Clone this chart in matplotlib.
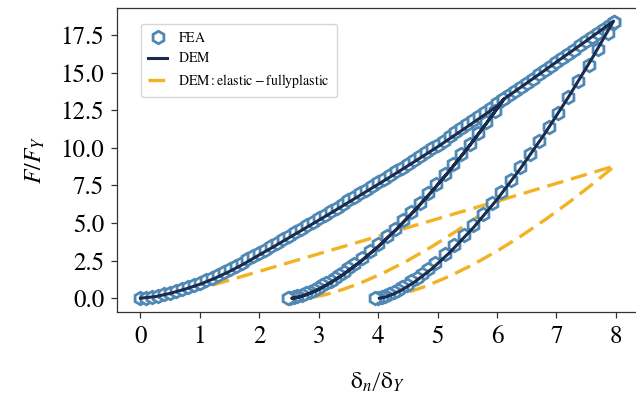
import numpy as np
import matplotlib
matplotlib.use("Agg")
import matplotlib.pyplot as plt

plt.rcParams['font.family'] = ['STIXGeneral', 'DejaVu Serif']
plt.rcParams['mathtext.fontset'] = 'stix'

# FEA data
fea_load_x = [0.0, 0.1, 0.2, 0.3, 0.4, 0.5, 0.6, 0.7, 0.8, 0.9, 1.0, 1.1, 1.2, 1.3, 1.4,
              1.5, 1.6, 1.7, 1.8, 1.9, 2.0, 2.1, 2.2, 2.3, 2.4, 2.5, 2.6, 2.7, 2.8, 2.9,
              3.0, 3.1, 3.2, 3.3, 3.4, 3.5, 3.6, 3.7, 3.8, 3.9, 4.0, 4.1, 4.2, 4.3, 4.4,
              4.5, 4.6, 4.7, 4.8, 4.9, 5.0, 5.1, 5.2, 5.3, 5.4, 5.5, 5.6, 5.7, 5.8, 5.9,
              6.0, 6.1, 6.2, 6.3, 6.4, 6.5, 6.6, 6.7, 6.8, 6.9, 7.0, 7.1, 7.2, 7.3, 7.4,
              7.5, 7.6, 7.7, 7.8, 7.9, 7.97]
fea_load_y = [0.00, 0.03, 0.09, 0.16, 0.25, 0.36, 0.47, 0.60, 0.73, 0.87, 1.02, 1.18, 1.35, 1.53, 1.73,
              1.93, 2.14, 2.35, 2.57, 2.79, 3.01, 3.23, 3.46, 3.69, 3.92, 4.15, 4.38, 4.61, 4.84, 5.07,
              5.30, 5.54, 5.78, 6.02, 6.26, 6.50, 6.74, 6.98, 7.22, 7.46, 7.70, 7.94, 8.18, 8.43, 8.68,
              8.93, 9.18, 9.43, 9.69, 9.95, 10.21, 10.48, 10.75, 11.02, 11.29, 11.56, 11.83, 12.10, 12.38, 12.66,
              12.94, 13.22, 13.49, 13.77, 14.05, 14.32, 14.60, 14.87, 15.15, 15.42, 15.70, 15.97, 16.25, 16.52, 16.80,
              17.07, 17.35, 17.62, 17.90, 18.17, 18.37]

fea_un1_x = [6.10, 5.96, 5.82, 5.68, 5.54, 5.40, 5.26, 5.12, 4.98, 4.84, 4.70, 4.56, 4.42, 4.28,
             4.14, 4.00, 3.86, 3.72, 3.60, 3.50, 3.42, 3.34, 3.27, 3.20, 3.13, 3.06, 2.99, 2.92,
             2.85, 2.78, 2.71, 2.64, 2.58, 2.52, 2.48]
fea_un1_y = [13.22, 12.46, 11.72, 10.99, 10.27, 9.58, 8.90, 8.23, 7.59, 6.96, 6.35, 5.76, 5.19, 4.63,
             4.11, 3.60, 3.11, 2.65, 2.27, 1.98, 1.75, 1.53, 1.35, 1.17, 1.01, 0.85, 0.70, 0.56,
             0.43, 0.32, 0.21, 0.12, 0.06, 0.02, 0.00]

fea_un2_x = [7.97, 7.86, 7.70, 7.54, 7.37, 7.20, 7.03, 6.87, 6.71, 6.55, 6.39, 6.23, 6.07, 5.92,
             5.76, 5.60, 5.44, 5.28, 5.12, 4.96, 4.84, 4.74, 4.65, 4.56, 4.48, 4.40, 4.33, 4.26,
             4.19, 4.12, 4.06, 4.00, 3.94]
fea_un2_y = [18.37, 17.62, 16.55, 15.51, 14.42, 13.36, 12.33, 11.39, 10.47, 9.57, 8.71, 7.87, 7.06, 6.33,
             5.58, 4.86, 4.17, 3.52, 2.91, 2.34, 1.94, 1.62, 1.36, 1.11, 0.90, 0.71, 0.55, 0.41,
             0.28, 0.17, 0.09, 0.03, 0.00]

# DEM model
dem_load1_x = [0.0, 0.25, 0.5, 0.75, 1.0, 1.25, 1.5, 1.75, 2.0, 2.25, 2.5, 2.75, 3.0, 3.25,
               3.5, 3.75, 4.0, 4.25, 4.5, 4.75, 5.0, 5.25, 5.5, 5.75, 6.0, 6.12]
dem_load1_y = [0.0, 0.10, 0.32, 0.60, 0.92, 1.32, 1.78, 2.30, 2.88, 3.44, 4.02, 4.60, 5.18, 5.77,
               6.37, 6.97, 7.57, 8.18, 8.80, 9.43, 10.06, 10.73, 11.40, 12.08, 12.76, 13.25]
dem_un1_x = [6.12, 5.8, 5.5, 5.2, 4.9, 4.6, 4.3, 4.0, 3.7, 3.4, 3.2, 3.0, 2.85, 2.7, 2.6, 2.55]
dem_un1_y = [13.25, 11.51, 9.95, 8.47, 7.08, 5.77, 4.55, 3.43, 2.42, 1.54, 1.03, 0.59, 0.32, 0.11, 0.02, 0.0]
dem_load2_x = [6.12, 6.5, 7.0, 7.5, 7.96]
dem_load2_y = [13.25, 14.30, 15.70, 17.10, 18.42]
dem_un2_x = [7.96, 7.6, 7.2, 6.8, 6.4, 6.0, 5.6, 5.2, 4.9, 4.6, 4.4, 4.25, 4.12, 4.02]
dem_un2_y = [18.42, 15.95, 13.36, 10.92, 8.65, 6.56, 4.68, 3.02, 1.94, 1.04, 0.55, 0.26, 0.07, 0.0]

# DEM elastic - fully plastic model
epp_load1_x = [0.0, 0.3, 0.6, 1.0, 6.05]
epp_load1_y = [0.0, 0.10, 0.30, 0.62, 6.50]
epp_un1_x = [6.05, 5.7, 5.3, 4.9, 4.5, 4.1, 3.7, 3.4, 3.1, 2.9, 2.75]
epp_un1_y = [6.50, 5.49, 4.42, 3.42, 2.51, 1.70, 1.00, 0.57, 0.22, 0.06, 0.0]
epp_load2_x = [6.05, 7.98]
epp_load2_y = [6.50, 8.79]
epp_un2_x = [7.98, 7.6, 7.2, 6.8, 6.4, 6.0, 5.6, 5.2, 4.8, 4.5, 4.25, 4.0]
epp_un2_y = [8.79, 7.56, 6.34, 5.19, 4.12, 3.13, 2.24, 1.46, 0.79, 0.39, 0.14, 0.0]

fea_color = '#4f88b5'
dem_color = '#1b2b4b'
epp_color = '#f2b224'

dem_x = np.concatenate([dem_load1_x, dem_un1_x, dem_un1_x[::-1], dem_load2_x, dem_un2_x])
dem_y = np.concatenate([dem_load1_y, dem_un1_y, dem_un1_y[::-1], dem_load2_y, dem_un2_y])

fig = plt.figure(figsize=(6.36, 3.98), dpi=100)
ax = fig.add_axes([0.1835, 0.2161, 0.8195, 0.765])

mk = dict(marker='h', ms=9, mfc='white', mec=fea_color, mew=2.0, ls='none')
ax.plot(fea_load_x, fea_load_y, label=r'$\mathrm{FEA}$', zorder=3, **mk)
ax.plot(fea_un1_x, fea_un1_y, zorder=3, **mk)
ax.plot(fea_un2_x, fea_un2_y, zorder=3, **mk)
ax.plot(dem_x, dem_y, color=dem_color, lw=2.2, label=r'$\mathrm{DEM}$', zorder=4)

dash = (0, (5, 2.4))
ax.plot(epp_load1_x + epp_un1_x[1:], epp_load1_y + epp_un1_y[1:], color=epp_color, lw=2.4,
        ls=dash, label=r'$\mathrm{DEM: elastic-fully plastic}$', zorder=2)
ax.plot(epp_load2_x + epp_un2_x[1:], epp_load2_y + epp_un2_y[1:], color=epp_color, lw=2.4,
        ls=dash, zorder=2)

ax.set_xlim(-0.4, 8.37)
ax.set_ylim(-0.92, 19.32)
ax.set_xticks(range(0, 9))
ax.set_yticks(np.arange(0, 18, 2.5))
ax.spines['right'].set_visible(False)
for s in ax.spines.values():
    s.set_color('#333333')
    s.set_linewidth(0.9)
ax.tick_params(labelsize=18, length=4.5, width=0.9, pad=4.5, color='#333333')

ax.set_xlabel(r'$\left.\mathrm{\delta}_n\right/\mathrm{\delta}_Y$', fontsize=17, labelpad=16)
ax.set_ylabel(r'$\left.F\right/F_Y$', fontsize=17, labelpad=10)

ax.legend(loc='upper left', bbox_to_anchor=(0.033, 0.97), fontsize=10,
          handlelength=1.3, handletextpad=0.8, labelspacing=0.45,
          borderpad=0.55, fancybox=True, edgecolor='#cccccc')

fig.savefig('out.png', dpi=100)
